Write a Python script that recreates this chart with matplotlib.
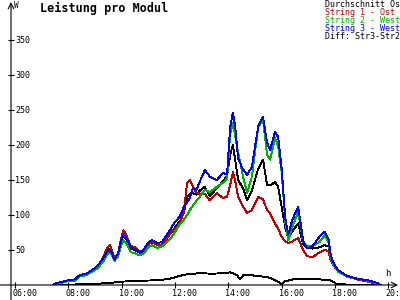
import numpy as np
import pandas as pd
import matplotlib
matplotlib.use("Agg")
import matplotlib.pyplot as plt
from matplotlib.transforms import ScaledTranslation

plt.rcParams['font.family'] = ['DejaVu Sans Mono']

# data (W per module)
times = ["07:25", "07:35", "07:50", "08:00", "08:15", "08:25", "08:40", "08:50",
         "09:00", "09:10", "09:20", "09:28", "09:34", "09:40", "09:44", "09:52",
         "10:00", "10:04", "10:10", "10:20", "10:30", "10:41", "10:50", "11:00",
         "11:08", "11:20", "11:30", "11:40", "11:50", "12:00", "12:11", "12:20",
         "12:27", "12:33", "12:40", "12:48", "12:56", "13:07", "13:18", "13:34",
         "13:48", "13:57", "14:04", "14:10", "14:15", "14:22", "14:33", "14:42",
         "14:53", "15:07", "15:18", "15:27", "15:34", "15:45", "15:52", "16:00",
         "16:08", "16:15", "16:23", "16:37", "16:48", "16:57", "17:10", "17:26",
         "17:37", "17:45", "17:50", "17:56", "18:07", "18:27", "18:50", "19:20",
         "19:35", "19:42"]
string1 = [0, 3, 5, 6, 7, 13, 15, 19,
           22, 30, 42, 54, 57, 45, 37, 45,
           70, 78, 72, 56, 54, 48, 50, 58,
           62, 57, 58, 65, 75, 80, 88, 105,
           146, 150, 141, 132, 130, 130, 121, 131,
           124, 126, 142, 161, 150, 126, 112, 103,
           107, 126, 122, 107, 102, 88, 80, 69,
           62, 60, 62, 67, 50, 41, 40, 47,
           50, 48, 36, 28, 20, 12, 8, 4,
           1, 0]
string2 = [0, 2, 4, 6, 6, 12, 14, 18,
           21, 27, 35, 44, 46, 40, 34, 41,
           59, 64, 60, 47, 45, 42, 45, 54,
           57, 53, 55, 60, 66, 76, 87, 93,
           100, 107, 113, 120, 126, 136, 133, 140,
           146, 152, 215, 231, 214, 189, 155, 131,
           155, 225, 236, 186, 179, 210, 198, 160,
           90, 64, 82, 104, 62, 55, 56, 62,
           71, 62, 40, 30, 19, 12, 9, 5,
           2, 0]
string3 = [0, 3, 5, 7, 8, 14, 16, 20,
           24, 31, 40, 48, 50, 42, 36, 46,
           66, 72, 67, 54, 51, 47, 51, 61,
           64, 60, 61, 70, 80, 90, 98, 112,
           118, 124, 138, 136, 148, 164, 155, 150,
           160, 158, 225, 246, 228, 180, 165, 157,
           169, 226, 240, 203, 193, 219, 211, 165,
           95, 72, 92, 112, 64, 52, 56, 70,
           76, 66, 44, 32, 21, 13, 9, 6,
           3, 0]
average = [0, 3, 5, 6, 7, 13, 15, 19,
           22, 29, 39, 49, 52, 42, 36, 44,
           65, 71, 66, 52, 50, 46, 49, 58,
           61, 57, 58, 65, 74, 82, 91, 103,
           125, 130, 131, 129, 135, 140, 127, 138,
           148, 156, 185, 200, 180, 150, 138, 121,
           135, 166, 179, 143, 142, 147, 140, 111,
           82, 66, 76, 88, 58, 54, 52, 54,
           57, 55, 40, 30, 20, 12, 8, 5,
           2, 0]

diff_times = ["07:25", "08:30", "09:10", "09:35", "10:05", "11:25", "11:48", "12:00",
              "12:10", "12:25", "12:55", "13:25", "14:05", "14:20", "14:26", "14:35",
              "15:05", "15:30", "15:51", "16:00", "16:07", "16:25", "17:25", "17:48",
              "17:55", "18:03", "19:40"]
diff = [0, 1, 2, 3, 5, 7, 9, 11,
        13, 15, 17, 16, 18, 14, 8, 15,
        13, 11, 5, 1, 5, 8, 8, 7,
        5, 1, 0]


def to_hours(ts):
    t = pd.to_datetime(ts, format="%H:%M")
    return t.hour + t.minute / 60.0


x = to_hours(times)
xd = to_hours(diff_times)

fig = plt.figure(figsize=(4, 3), dpi=100)
ax = fig.add_axes([11 / 400, 15 / 300, 387 / 400, 283 / 300])
ax.set_xlim(5.85, 20.36)
ax.set_ylim(0, 404)
for s in ax.spines.values():
    s.set_visible(False)

lw = 0.65
ax.plot(xd, diff, color='black', lw=lw, antialiased=False)
ax.plot(x, average, color='black', lw=lw, antialiased=False)
ax.plot(x, string1, color='#c00000', lw=lw, antialiased=False)
ax.plot(x, string2, color='#00b000', lw=lw, antialiased=False)
ax.plot(x, string3, color='#0000ff', lw=lw, antialiased=False)

# axis lines with arrows, crossing each other
ax.annotate('', xy=(20.36, 0), xytext=(5.4, 0), annotation_clip=False,
            arrowprops=dict(arrowstyle='->', lw=0.8, color='black', shrinkA=0, shrinkB=0))
ax.annotate('', xy=(5.85, 404), xytext=(5.85, -22), annotation_clip=False,
            arrowprops=dict(arrowstyle='->', lw=0.8, color='black', shrinkA=0, shrinkB=0))

yticks = [50, 100, 150, 200, 250, 300, 350]
ax.set_yticks(yticks)
ax.set_yticklabels([str(v) for v in yticks])
ax.tick_params(axis='y', direction='inout', length=4.3, width=0.8, pad=-5.0, labelsize=6)
for lab in ax.get_yticklabels():
    lab.set_ha('left')

xticks = [6, 8, 10, 12, 14, 16, 18, 20]
ax.set_xticks(xticks)
ax.set_xticklabels(["%02d:00" % h for h in xticks])
ax.tick_params(axis='x', direction='inout', length=4.3, width=0.8, pad=0.5, labelsize=6)
shift = ScaledTranslation(-3 / 100, 0, fig.dpi_scale_trans)
for lab in ax.get_xticklabels():
    lab.set_ha('left')
    lab.set_transform(lab.get_transform() + shift)

fig.text(40 / 400, 1 - 8 / 300, 'Leistung pro Modul', fontsize=8.5, fontweight='bold', va='center')
fig.text(14 / 400, 1 - 5 / 300, 'W', fontsize=5.5, va='center')
fig.text(385 / 400, 1 - 274 / 300, 'h', fontsize=6.5, va='center')

legend_names = ['Durchschnitt Os', 'String 1 - Ost', 'String 2 - West', 'String 3 - West', 'Diff: Str3-Str2']
legend_colors = ['black', '#c00000', '#00b000', '#0000ff', 'black']
for i, (name, col) in enumerate(zip(legend_names, legend_colors)):
    fig.text(325 / 400, 1 - (4.5 + 8 * i) / 300, name, fontsize=6, color=col, va='center')

fig.savefig('out.png', dpi=100)
